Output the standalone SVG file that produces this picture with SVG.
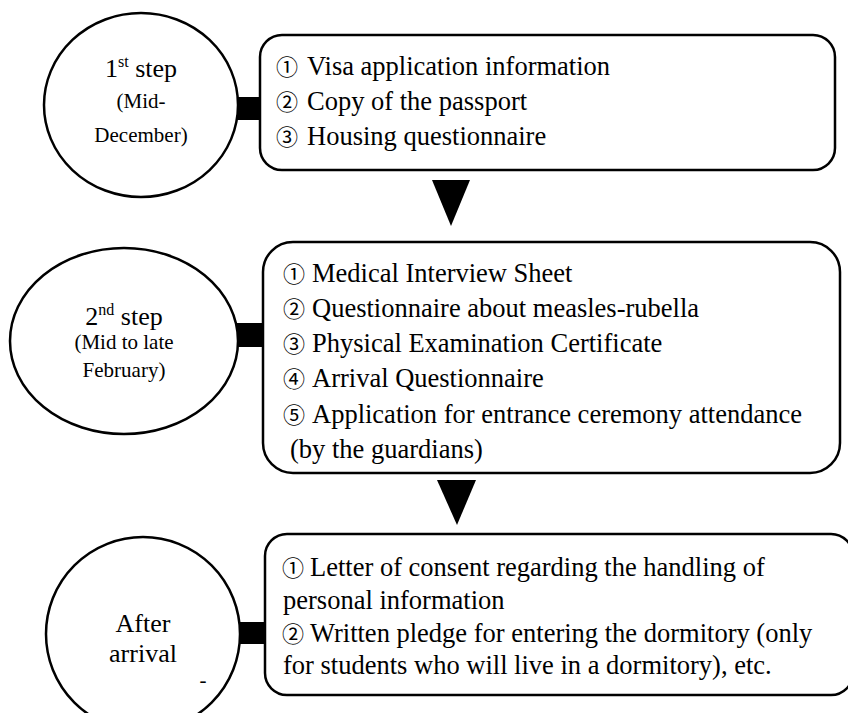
<svg xmlns="http://www.w3.org/2000/svg" width="848" height="713" viewBox="0 0 848 713">
<style>
.shape{fill:#fff;stroke:#000;stroke-width:2.5}
.bar{fill:#000}
.arr{fill:#000}
text{font-family:"Liberation Serif","Times New Roman","Noto Sans CJK JP",serif;fill:#000}
.t{font-size:26.5px}
.c{font-size:26px;text-anchor:middle}
.cs{font-size:21px;text-anchor:middle}
.n{font-family:"Noto Sans CJK JP","DejaVu Sans",sans-serif;font-size:22px}
</style>
<rect width="848" height="713" fill="#fff"/>
<g id="connectors">
<rect class="bar" x="236" y="97" width="25" height="23"/>
<rect class="bar" x="234" y="323" width="30" height="24"/>
<rect class="bar" x="238" y="622" width="28" height="22"/>
<polygon class="arr" points="432,180 470,180 451,226"/>
<polygon class="arr" points="437,480 476,480 457,525"/>
</g>
<g id="step1">
<ellipse class="shape" cx="141" cy="105" rx="97" ry="92"/>
<text class="c" x="141" y="77">1<tspan font-size="16" dy="-10">st</tspan><tspan dy="10"> step</tspan></text>
<text class="cs" x="141" y="108">(Mid-</text>
<text class="cs" x="141" y="142">December)</text>
</g>
<g id="box1">
<rect class="shape" x="260" y="35" width="575" height="135" rx="22"/>
<text class="t" y="75"><tspan class="n" x="276">①</tspan><tspan x="307">Visa application information</tspan></text>
<text class="t" y="110"><tspan class="n" x="276">②</tspan><tspan x="307">Copy of the passport</tspan></text>
<text class="t" y="145"><tspan class="n" x="276">③</tspan><tspan x="307">Housing questionnaire</tspan></text>
</g>
<g id="step2">
<ellipse class="shape" cx="124" cy="341" rx="114" ry="93"/>
<text class="c" x="124" y="325">2<tspan font-size="16" dy="-10">nd</tspan><tspan dy="10"> step</tspan></text>
<text class="cs" x="124" y="349">(Mid to late</text>
<text class="cs" x="124" y="377">February)</text>
</g>
<g id="box2">
<rect class="shape" x="263" y="242" width="577" height="231" rx="30"/>
<text class="t" y="282"><tspan class="n" x="283">①</tspan><tspan x="312">Medical Interview Sheet</tspan></text>
<text class="t" y="317"><tspan class="n" x="283">②</tspan><tspan x="312">Questionnaire about measles-rubella</tspan></text>
<text class="t" y="352"><tspan class="n" x="283">③</tspan><tspan x="312">Physical Examination Certificate</tspan></text>
<text class="t" y="387"><tspan class="n" x="283">④</tspan><tspan x="312">Arrival Questionnaire</tspan></text>
<text class="t" y="423"><tspan class="n" x="283">⑤</tspan><tspan x="312">Application for entrance ceremony attendance</tspan></text>
<text class="t" x="290" y="458">(by the guardians)</text>
</g>
<g id="step3">
<ellipse class="shape" cx="143" cy="634" rx="97" ry="97"/>
<text class="c" x="143" y="632">After</text>
<text class="c" x="143" y="662">arrival</text>
<text class="cs" x="203" y="687">-</text>
</g>
<g id="box3">
<rect class="shape" x="265" y="534" width="588" height="161" rx="22"/>
<text class="t" y="576"><tspan class="n" x="282">①</tspan><tspan x="310">Letter of consent regarding the handling of</tspan></text>
<text class="t" x="283" y="609">personal information</text>
<text class="t" y="642"><tspan class="n" x="282">②</tspan><tspan x="310">Written pledge for entering the dormitory (only</tspan></text>
<text class="t" x="283" y="674">for students who will live in a dormitory), etc.</text>
</g>
</svg>
